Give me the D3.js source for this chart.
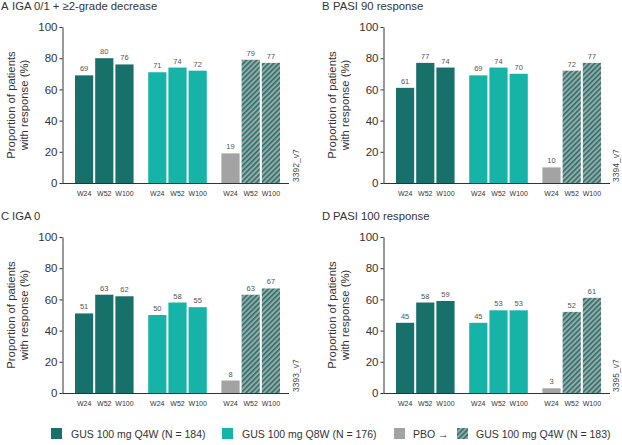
<!DOCTYPE html>
<html><head><meta charset="utf-8">
<script src="https://cdn.jsdelivr.net/npm/d3@7"></script>
<style>body{margin:0;background:#fff}svg{display:block;font-family:"Liberation Sans",Arial,Helvetica,sans-serif}</style>
</head><body><svg id="c" width="622" height="445"></svg>
<script>
const timepoints = ["W24","W52","W100"];
const groups = ["Q4W","Q8W","PBO"];
const yTicks = [0,20,40,60,80,100];
const panelLetters = ["A","B","C","D"];
const panelTitles = ["IGA 0/1 + \u22652-grade decrease","PASI 90 response","IGA 0","PASI 100 response"];
const panelCodes = ["3392_v7","3394_v7","3393_v7","3395_v7"];
const valuesQ4W = [[69,80,76],[61,77,74],[51,63,62],[45,58,59]];
const valuesQ8W = [[71,74,72],[69,74,70],[50,58,55],[45,53,53]];
const valuesPBO = [[19,79,77],[10,72,77],[8,63,67],[3,52,61]];
const legendLabels = ["GUS 100 mg Q4W (N = 184)","GUS 100 mg Q8W (N = 176)","PBO \u2192","GUS 100 mg Q4W (N = 183)"];

const C_DARK = "#17706a", C_LIGHT = "#16b3a8", C_GRAY = "#a3a3a3", C_STRIPE = "#1a7870", C_TEXT = "#333";

const svg = d3.select("#c");
const defs = svg.append("defs");
const pat = defs.append("pattern").attr("id","hatch").attr("patternUnits","userSpaceOnUse")
  .attr("width",3.6).attr("height",3.6).attr("patternTransform","rotate(45)");
pat.append("rect").attr("width",3.6).attr("height",3.6).attr("fill",C_GRAY);
pat.append("rect").attr("x",0).attr("y",0).attr("width",1.6).attr("height",3.6).attr("fill",C_STRIPE);

const offsets = [[0,0],[321,0],[0,210],[321,210]];
const axisX = 62.5, yTop = 27, yBot = 183;

const y = d3.scaleLinear().domain([0,100]).range([yBot,yTop]);
const xOuter = d3.scaleBand().domain(groups).range([75,280]).paddingInner(0.2).paddingOuter(0);
const xInner = d3.scaleBand().domain(timepoints).range([0,xOuter.bandwidth()]).paddingInner(0.1).paddingOuter(0);

function fillFor(gi, ti){
  if (gi===0) return C_DARK;
  if (gi===1) return C_LIGHT;
  return ti===0 ? C_GRAY : "url(#hatch)";
}

panelLetters.forEach((letter, p) => {
  const g = svg.append("g").attr("transform",`translate(${offsets[p][0]},${offsets[p][1]})`);
  g.append("text").attr("x",1).attr("y",9.5).attr("font-size",11.3).attr("fill",C_TEXT).text(letter);
  g.append("text").attr("x",12).attr("y",9.5).attr("font-size",11.3).attr("fill",C_TEXT).text(panelTitles[p]);

  const vals = [valuesQ4W[p], valuesQ8W[p], valuesPBO[p]];
  groups.forEach((grp, gi) => {
    timepoints.forEach((tp, ti) => {
      const v = vals[gi][ti];
      const x0 = xOuter(grp) + xInner(tp);
      g.append("rect").attr("x",x0).attr("y",y(v)).attr("width",xInner.bandwidth())
        .attr("height",y(0)-y(v)).attr("fill",fillFor(gi,ti));
      g.append("text").attr("x",x0+xInner.bandwidth()/2).attr("y",y(v)-4)
        .attr("text-anchor","middle").attr("font-size",7.5).attr("fill","#555").text(v);
      g.append("text").attr("x",x0+xInner.bandwidth()/2).attr("y",195.5)
        .attr("text-anchor","middle").attr("font-size",7).attr("fill",C_TEXT).text(tp);
    });
  });

  const ax = g.append("g").attr("transform",`translate(${axisX},0)`)
    .call(d3.axisLeft(y).tickValues(yTicks).tickSize(3).tickSizeOuter(0).tickPadding(2));
  ax.selectAll("path,line").attr("stroke",C_TEXT);
  ax.selectAll("text").attr("font-size",11.5).attr("fill",C_TEXT).attr("font-family",null);
  g.append("line").attr("x1",axisX).attr("x2",289).attr("y1",yBot+0.5).attr("y2",yBot+0.5).attr("stroke",C_TEXT);

  g.append("text").attr("transform",`translate(15,${(yTop+yBot)/2}) rotate(-90)`)
    .attr("text-anchor","middle").attr("font-size",11.3).attr("fill",C_TEXT).text("Proportion of patients");
  g.append("text").attr("transform",`translate(28,${(yTop+yBot)/2}) rotate(-90)`)
    .attr("text-anchor","middle").attr("font-size",11.3).attr("fill",C_TEXT).text("with response (%)");

  g.append("text").attr("transform",`translate(${p%2===0?298.5:297.5},182) rotate(-90)`)
    .attr("font-size",8.5).attr("fill","#444").text(panelCodes[p]);
});

const legendFills = [C_DARK, C_LIGHT, C_GRAY, "url(#hatch)"];
const legendSquareX = [51, 222, 394, 457];
const legendTextX = [71, 242, 413, 476];
legendLabels.forEach((lab, i) => {
  svg.append("rect").attr("x",legendSquareX[i]).attr("y",428).attr("width",11).attr("height",11).attr("fill",legendFills[i]);
  svg.append("text").attr("x",legendTextX[i]).attr("y",438).attr("font-size",10.5).attr("fill",C_TEXT).text(lab);
});
</script></body></html>
